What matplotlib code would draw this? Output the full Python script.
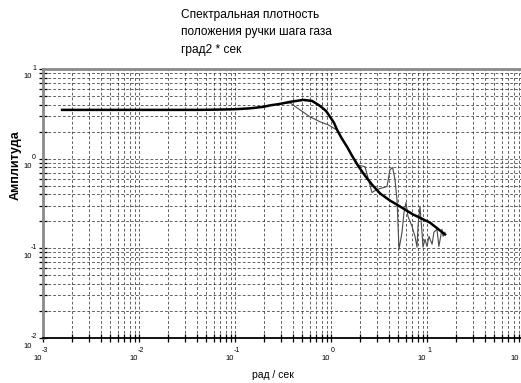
import numpy as np
import matplotlib
matplotlib.use("Agg")
import matplotlib.pyplot as plt
from matplotlib import transforms
from matplotlib.ticker import LogLocator, NullFormatter

plt.rcParams['font.family'] = ['Liberation Sans', 'DejaVu Sans']

# model (thick) curve
fit_x = [0.00158, 0.0432, 0.0953, 0.143, 0.196, 0.232, 0.294, 0.374, 0.511, 0.634,
         0.767, 0.887, 0.977, 1.075, 1.155, 1.30, 1.468, 1.655, 1.91, 2.26,
         2.67, 3.24, 4.12, 5.23, 7.14, 10.7, 15.4]
fit_y = [3.50, 3.50, 3.55, 3.64, 3.78, 3.93, 4.08, 4.30, 4.52, 4.41,
         3.88, 3.41, 2.93, 2.51, 2.10, 1.67, 1.36, 1.08, 0.836, 0.647,
         0.514, 0.41, 0.341, 0.293, 0.239, 0.194, 0.143]

# measured (thin) curve
meas_x = [0.00158, 0.0432, 0.0953, 0.143, 0.196, 0.232, 0.294, 0.374, 0.475, 0.604,
          0.767, 0.931, 1.10, 1.155, 1.30, 1.468, 1.655, 1.91, 2.26, 2.67,
          3.01, 3.83, 4.12, 4.39, 4.64, 4.87, 5.11, 5.49, 5.76, 6.04,
          6.34, 6.98, 7.50, 7.87, 8.06, 8.45, 8.87, 9.08, 9.53, 10.0,
          10.5, 11.3, 11.8, 12.7, 13.3, 14.3, 14.7, 15.4]
meas_y = [3.50, 3.50, 3.55, 3.64, 3.78, 3.93, 4.08, 4.20, 3.50, 2.93,
          2.58, 2.39, 2.15, 2.10, 1.67, 1.36, 1.08, 0.85, 0.815, 0.419,
          0.453, 0.489, 0.755, 0.794, 0.585, 0.350, 0.0975, 0.151, 0.251, 0.324,
          0.227, 0.176, 0.136, 0.103, 0.176, 0.293, 0.151, 0.103, 0.126, 0.105,
          0.136, 0.111, 0.151, 0.163, 0.105, 0.163, 0.136, 0.151]

x_decades = [-3, -2, -1, 0, 1, 2]
y_decades = [-2, -1, 0, 1]

title_lines = ["Спектральная плотность", "положения ручки шага газа", "град2 * сек"]
xlabel = "рад / сек"
ylabel = "Амплитуда"

W, H = 521, 383
fig = plt.figure(figsize=(W / 100, H / 100), dpi=100)
ax = fig.add_axes([43 / W, (H - 338) / H, 480 / W, 269 / H])
ax.set_xscale('log')
ax.set_yscale('log')
ax.set_xlim(1e-3, 1e2)
ax.set_ylim(1e-2, 1e1)

ax.plot(meas_x, meas_y, color='#4a4a4a', lw=0.8, zorder=3)
ax.plot(fit_x, fit_y, color='black', lw=1.8, zorder=4, solid_joinstyle='round')

ax.xaxis.set_major_locator(LogLocator(base=10, numticks=20))
ax.xaxis.set_minor_locator(LogLocator(base=10, subs=np.arange(2, 10), numticks=20))
ax.yaxis.set_major_locator(LogLocator(base=10, numticks=20))
ax.yaxis.set_minor_locator(LogLocator(base=10, subs=np.arange(2, 10), numticks=20))
for axis in (ax.xaxis, ax.yaxis):
    axis.set_major_formatter(NullFormatter())
    axis.set_minor_formatter(NullFormatter())

ax.grid(True, which='both', color='#222222', linestyle=(0, (4, 3)), linewidth=0.5)
ax.tick_params(which='both', direction='inout', length=6, width=0.9, color='black')

for s in ['left', 'top']:
    ax.spines[s].set_color('#8a8a8a')
    ax.spines[s].set_linewidth(2)
ax.spines['bottom'].set_color('black')
ax.spines['bottom'].set_linewidth(1.3)
ax.spines['right'].set_visible(False)

fs_tick = 5
xt = ax.get_xaxis_transform()
for e in x_decades:
    if 10.0 ** e < 50:
        t1 = transforms.offset_copy(xt, fig=fig, x=2, y=-12, units='dots')
        ax.text(10.0 ** e, 0, str(e), transform=t1, fontsize=fs_tick, ha='center', va='center', clip_on=False)
        t2 = transforms.offset_copy(xt, fig=fig, x=-5, y=-20, units='dots')
    else:
        t2 = transforms.offset_copy(xt, fig=fig, x=-8, y=-20, units='dots')
    ax.text(10.0 ** e, 0, "10", transform=t2, fontsize=fs_tick + 0.5, ha='center', va='center', clip_on=False)

yt = ax.get_yaxis_transform()
for e in y_decades:
    t1 = transforms.offset_copy(yt, fig=fig, x=-9, y=1, units='dots')
    ax.text(0, 10.0 ** e, str(e), transform=t1, fontsize=fs_tick, ha='center', va='center', clip_on=False)
    t2 = transforms.offset_copy(yt, fig=fig, x=-15, y=-8, units='dots')
    ax.text(0, 10.0 ** e, "10", transform=t2, fontsize=fs_tick + 0.5, ha='center', va='center', clip_on=False)

for i, line in enumerate(title_lines):
    fig.text(181 / W, 1 - (15 + 17.5 * i) / H, line, fontsize=8.6, ha='left', va='center')

fig.text(273 / W, 1 - 375 / H, xlabel, fontsize=7.5, ha='center', va='center')
fig.text(16 / W, 1 - 165 / H, ylabel, fontsize=9, fontweight='bold', rotation=90, ha='center', va='center')

fig.savefig('out.png', dpi=100)
